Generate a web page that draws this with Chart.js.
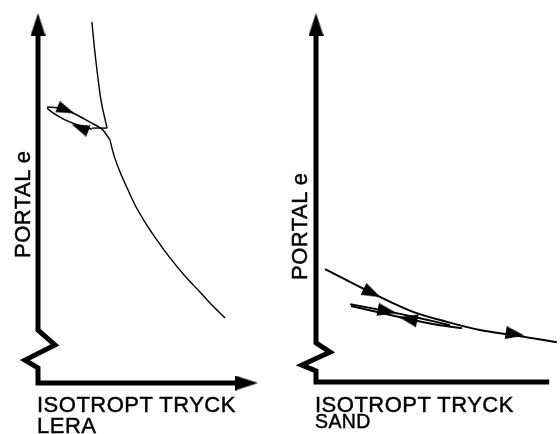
<!DOCTYPE html>
<html>
<head>
<meta charset="utf-8">
<script src="https://cdn.jsdelivr.net/npm/chart.js@4/dist/chart.umd.min.js"></script>
<style>
  html,body{margin:0;padding:0;background:#fff;}
  #wrap{position:relative;width:560px;height:434px;overflow:hidden;background:#fff;}
  .panel{position:absolute;top:0;width:280px;height:434px;}
  .lbl{position:absolute;font-family:"Liberation Sans",Arial,Helvetica,sans-serif;color:#000;line-height:1;white-space:nowrap;-webkit-text-stroke:0.45px #000;}
  .big{font-size:22px;letter-spacing:0.5px;}
  .small{font-size:19.5px;letter-spacing:0.4px;}
  .rot{transform-origin:0 0;transform:rotate(-90deg);}
</style>
</head>
<body>
<div id="wrap">
  <div class="panel" style="left:0"><canvas id="lera" width="280" height="434"></canvas></div>
  <div class="panel" style="left:280px"><canvas id="sand" width="280" height="434"></canvas></div>
  <div class="lbl big rot" style="left:12px;top:258px">PORTAL e</div>
  <div class="lbl big" style="left:37px;top:394px">ISOTROPT TRYCK</div>
  <div class="lbl big" style="left:37px;top:415px">LERA</div>
  <div class="lbl big rot" style="left:289px;top:280px">PORTAL e</div>
  <div class="lbl big" style="left:315px;top:394px">ISOTROPT TRYCK</div>
  <div class="lbl small" style="left:315px;top:412px">SAND</div>
</div>
<script>
// ---- data (schematic units: x = isotropic pressure, y = void ratio e) ----
// LERA (clay)
const leraAxis      = [[0,9.5],[0,1.43],[0.77,1.03],[-0.59,0.62],[0,0.41],[0,0],[9.5,0]];
const leraAxisHeads = [[0,9.69],[9.48,0]];
const leraVirgin    = [[2.45,9.76],[2.55,9.14],[2.68,8.46],[2.86,7.65],[3.14,6.89]];
const leraUnload    = [[3.14,6.89],[2.45,6.89]];
const leraLoopUpper = [[0.41,7.46],[1.0,7.43],[1.68,7.27],[2.36,7.05],[2.91,6.86],[3.27,6.57]];
const leraLoopLower = [[0.41,7.43],[0.68,7.30],[1.14,7.14],[1.68,7.0],[2.45,6.86]];
const leraMain      = [[3.27,6.57],[3.45,6.16],[3.73,5.7],[4.05,5.27],[4.41,4.81],[4.86,4.35],[5.41,3.86],[6.0,3.38],[6.68,2.89],[7.36,2.46],[7.95,2.08],[8.5,1.76]];
const leraArrows    = [[1.27,7.38],[1.91,6.9]];
const leraArrowDir  = [112, 292];
// SAND
const sandAxis      = [[0,9.6],[0,1.06],[0.64,0.81],[-0.64,0.46],[0,0.30],[0,0],[10.6,0]];
const sandAxisHeads = [[0,9.69],[10.57,0]];
const sandVirgin    = [[0.41,3.06],[2.55,2.41],[4.41,1.90],[5.95,1.63],[7.45,1.41],[8.95,1.27],[10.95,1.08]];
const sandLoopA     = [[1.55,2.11],[3.23,1.92],[4.73,1.73],[6.09,1.54]];
const sandLoopB     = [[1.59,2.06],[4.18,1.71],[5.64,1.54],[6.64,1.46]];
const sandArrows    = [[2.55,2.41],[9.05,1.30],[3.23,1.92],[4.18,1.71]];
const sandArrowDir  = [116, 99, 101, 282];

function arrowCanvas(w,h){
  const c=document.createElement('canvas');c.width=w;c.height=h;
  const g=c.getContext('2d');g.fillStyle='#000';
  g.beginPath();g.moveTo(w/2,0);g.lineTo(w,h);g.lineTo(0,h);g.closePath();g.fill();
  return c;
}
const headBig = arrowCanvas(15,23);
const headSmallL = arrowCanvas(12,18);
const headSmallS = arrowCanvas(13,19);

const pts = a => a.map(p=>({x:p[0],y:p[1]}));
function lineDs(data,width,opts){
  return Object.assign({type:'line',data:pts(data),borderColor:'#000',borderWidth:width,
    pointRadius:0,showLine:true,fill:false,clip:false,tension:0},opts||{});
}
function headDs(data,style,rot){
  return {type:'line',data:pts(data),showLine:false,pointStyle:style,pointRadius:10,
    pointRotation:rot,backgroundColor:'#000',borderColor:'#000',clip:false};
}
function make(id,pad,xmax,datasets){
  new Chart(document.getElementById(id),{
    type:'line',
    data:{datasets},
    options:{
      responsive:false,animation:false,
      layout:{padding:pad},
      scales:{x:{type:'linear',display:false,min:0,max:xmax},y:{type:'linear',display:false,min:0,max:10}},
      plugins:{legend:{display:false},tooltip:{enabled:false},title:{display:false}},
      events:[]
    }
  });
}

make('lera',{left:38,right:22,top:13,bottom:51},10,[
  lineDs(leraAxis,5,{borderJoinStyle:'miter'}),
  headDs(leraAxisHeads,headBig,[0,90]),
  lineDs(leraVirgin,1.4,{cubicInterpolationMode:'monotone'}),
  lineDs(leraUnload,1.4),
  lineDs(leraLoopUpper,1.5,{tension:0.3}),
  lineDs(leraLoopLower,1.5,{tension:0.3}),
  lineDs(leraMain,1.4,{cubicInterpolationMode:'monotone'}),
  headDs(leraArrows,headSmallL,leraArrowDir)
]);
make('sand',{left:36,right:24,top:13,bottom:52},10,[
  lineDs(sandAxis,5,{borderJoinStyle:'miter'}),
  headDs(sandAxisHeads,headBig,[0,90]),
  lineDs(sandVirgin,2,{cubicInterpolationMode:'monotone'}),
  lineDs(sandLoopA,2,{tension:0.2}),
  lineDs(sandLoopB,2,{tension:0.2}),
  headDs(sandArrows,headSmallS,sandArrowDir)
]);
</script>
</body>
</html>
